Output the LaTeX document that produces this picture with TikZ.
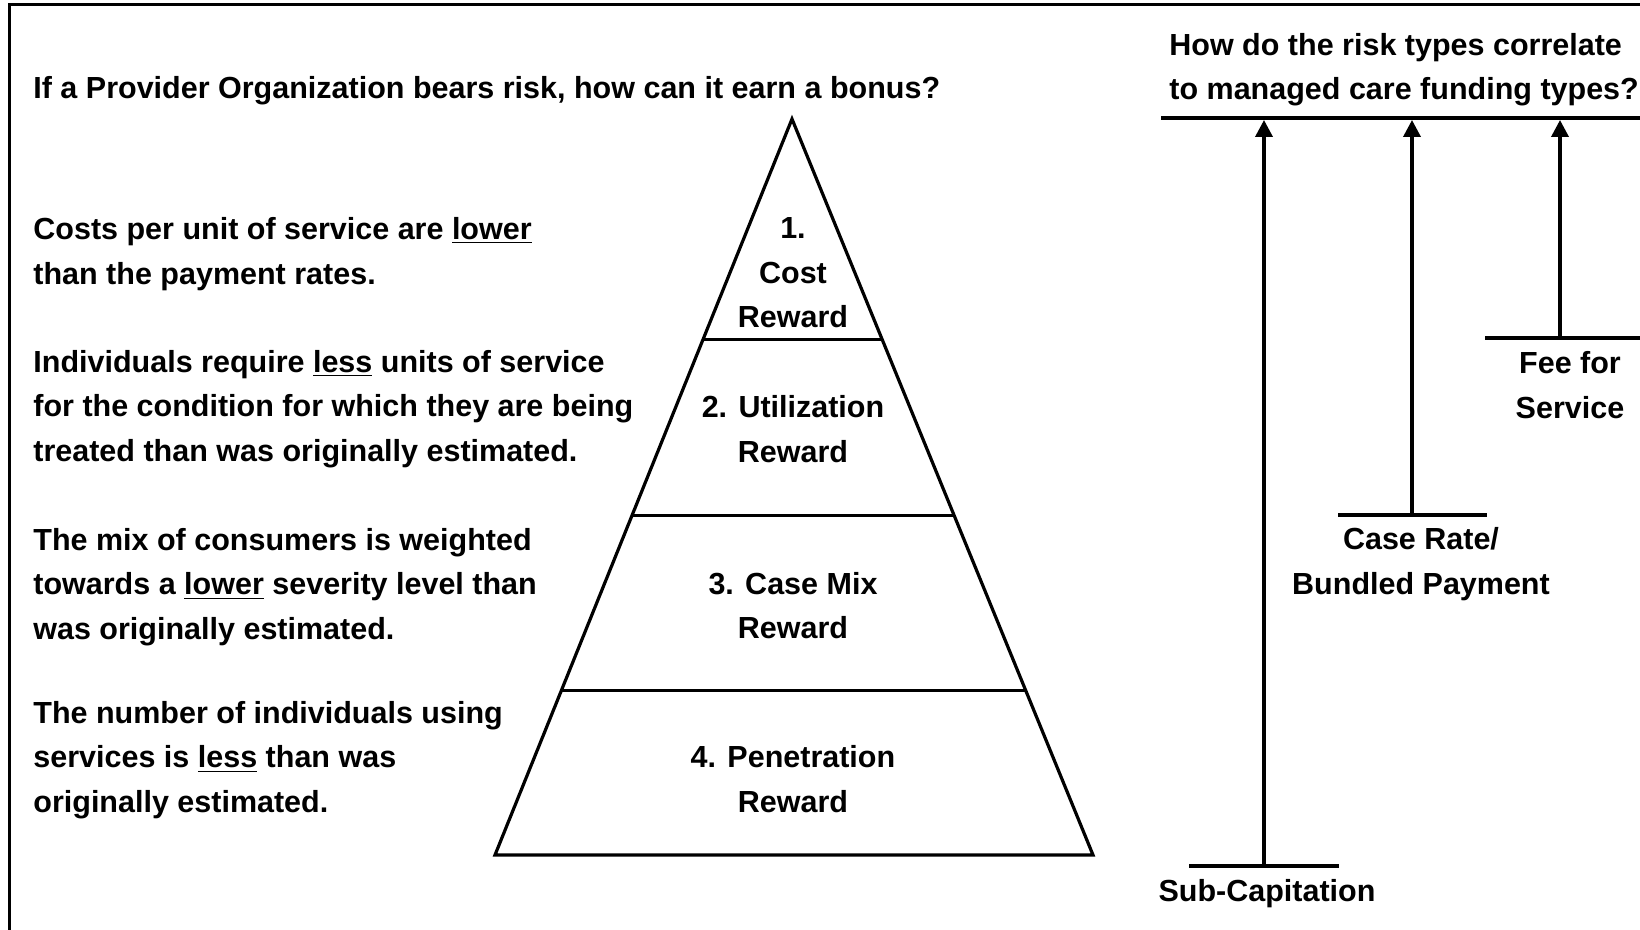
\documentclass[tikz,border=0pt]{standalone}
\usepackage{fontspec}
\setmainfont{Liberation Sans}
\usetikzlibrary{arrows.meta}
\usetikzlibrary{calc}

\begin{document}
\begin{tikzpicture}
[x=0.5pt,y=-0.5pt,%
  lineDecorate/.style={-,line width=1.6pt},%
  arrowDecorate/.style={-{Triangle[length=8.5pt,width=8.5pt]},line width=1.8pt},%
  textDecorate/.style={inner sep=0pt,align=left,anchor=west,font=\fontsize{15.25}{22.25}\selectfont\bfseries},%
  labelDecorate/.style={inner sep=0pt,align=center,font=\fontsize{15.25}{22.25}\selectfont\bfseries}]
\useasboundingbox (0,0) rectangle (1640,930);
%% frame
\draw[line width=1.5pt] (9,935) |- (1645,5);
%% questions
\node[textDecorate] (bonusQ) at (33,91) {If a Provider Organization bears risk, how can it earn a bonus?};
\node[textDecorate] (fundQ) at (1169,69.5) {How do the risk types correlate\\to managed care funding types?};
%% reasons on the left
\foreach \nodename/\y/\reason in {
  costWhy/254/{Costs per unit of service are \underline{lower}\\than the payment rates.},
  utilWhy/409/{Individuals require \underline{less} units of service\\for the condition for which they are being\\treated than was originally estimated.},
  mixWhy/587/{The mix of consumers is weighted\\towards a \underline{lower} severity level than\\was originally estimated.},
  penWhy/760/{The number of individuals using\\services is \underline{less} than was\\originally estimated.}}
{
  \node[textDecorate] (\nodename) at (33,\y) {\reason};
}
%% pyramid and its tiers
\coordinate (apex) at (792,119);
\coordinate (baseL) at (495,855);
\coordinate (baseR) at (1093,855);
\draw[lineDecorate] (apex) -- (baseL) -- (baseR) -- cycle;
\foreach \t in {0.300,0.539,0.776}
  \draw[lineDecorate] ($(apex)!\t!(baseL)$) -- ($(apex)!\t!(baseR)$);
\foreach \nodename/\y/\tier in {
  costRw/273/{1.\\Cost\\Reward}, utilRw/429/{2. Utilization\\Reward},
  mixRw/605.5/{3. Case Mix\\Reward}, penRw/779/{4. Penetration\\Reward}}
{
  \node[labelDecorate] (\nodename) at (793,\y) {\tier};
}
%% funding types
\draw[line width=1.9pt] (1161,118) -- (1645,118);
\foreach \barname/\xa/\xb/\xm/\y in {
  sub/1189/1339/1264/866, case/1338/1487/1412/515, fee/1485/1645/1560/338}
{
  \draw[lineDecorate] (\xa,\y) -- (\xb,\y);
  \coordinate (\barname Foot) at (\xm,\y);
  \coordinate (\barname Top) at (\xm,120);
  \draw[arrowDecorate] (\barname Foot) -- (\barname Top);
}
\node[labelDecorate] (feeLabel) at (1570,385) {Fee for\\Service};
\node[labelDecorate] (caseLabel) at (1421,564) {Case Rate/\\Bundled Payment};
\node[labelDecorate] (subLabel) at (1267,894) {Sub-Capitation};
\end{tikzpicture}
\end{document}
